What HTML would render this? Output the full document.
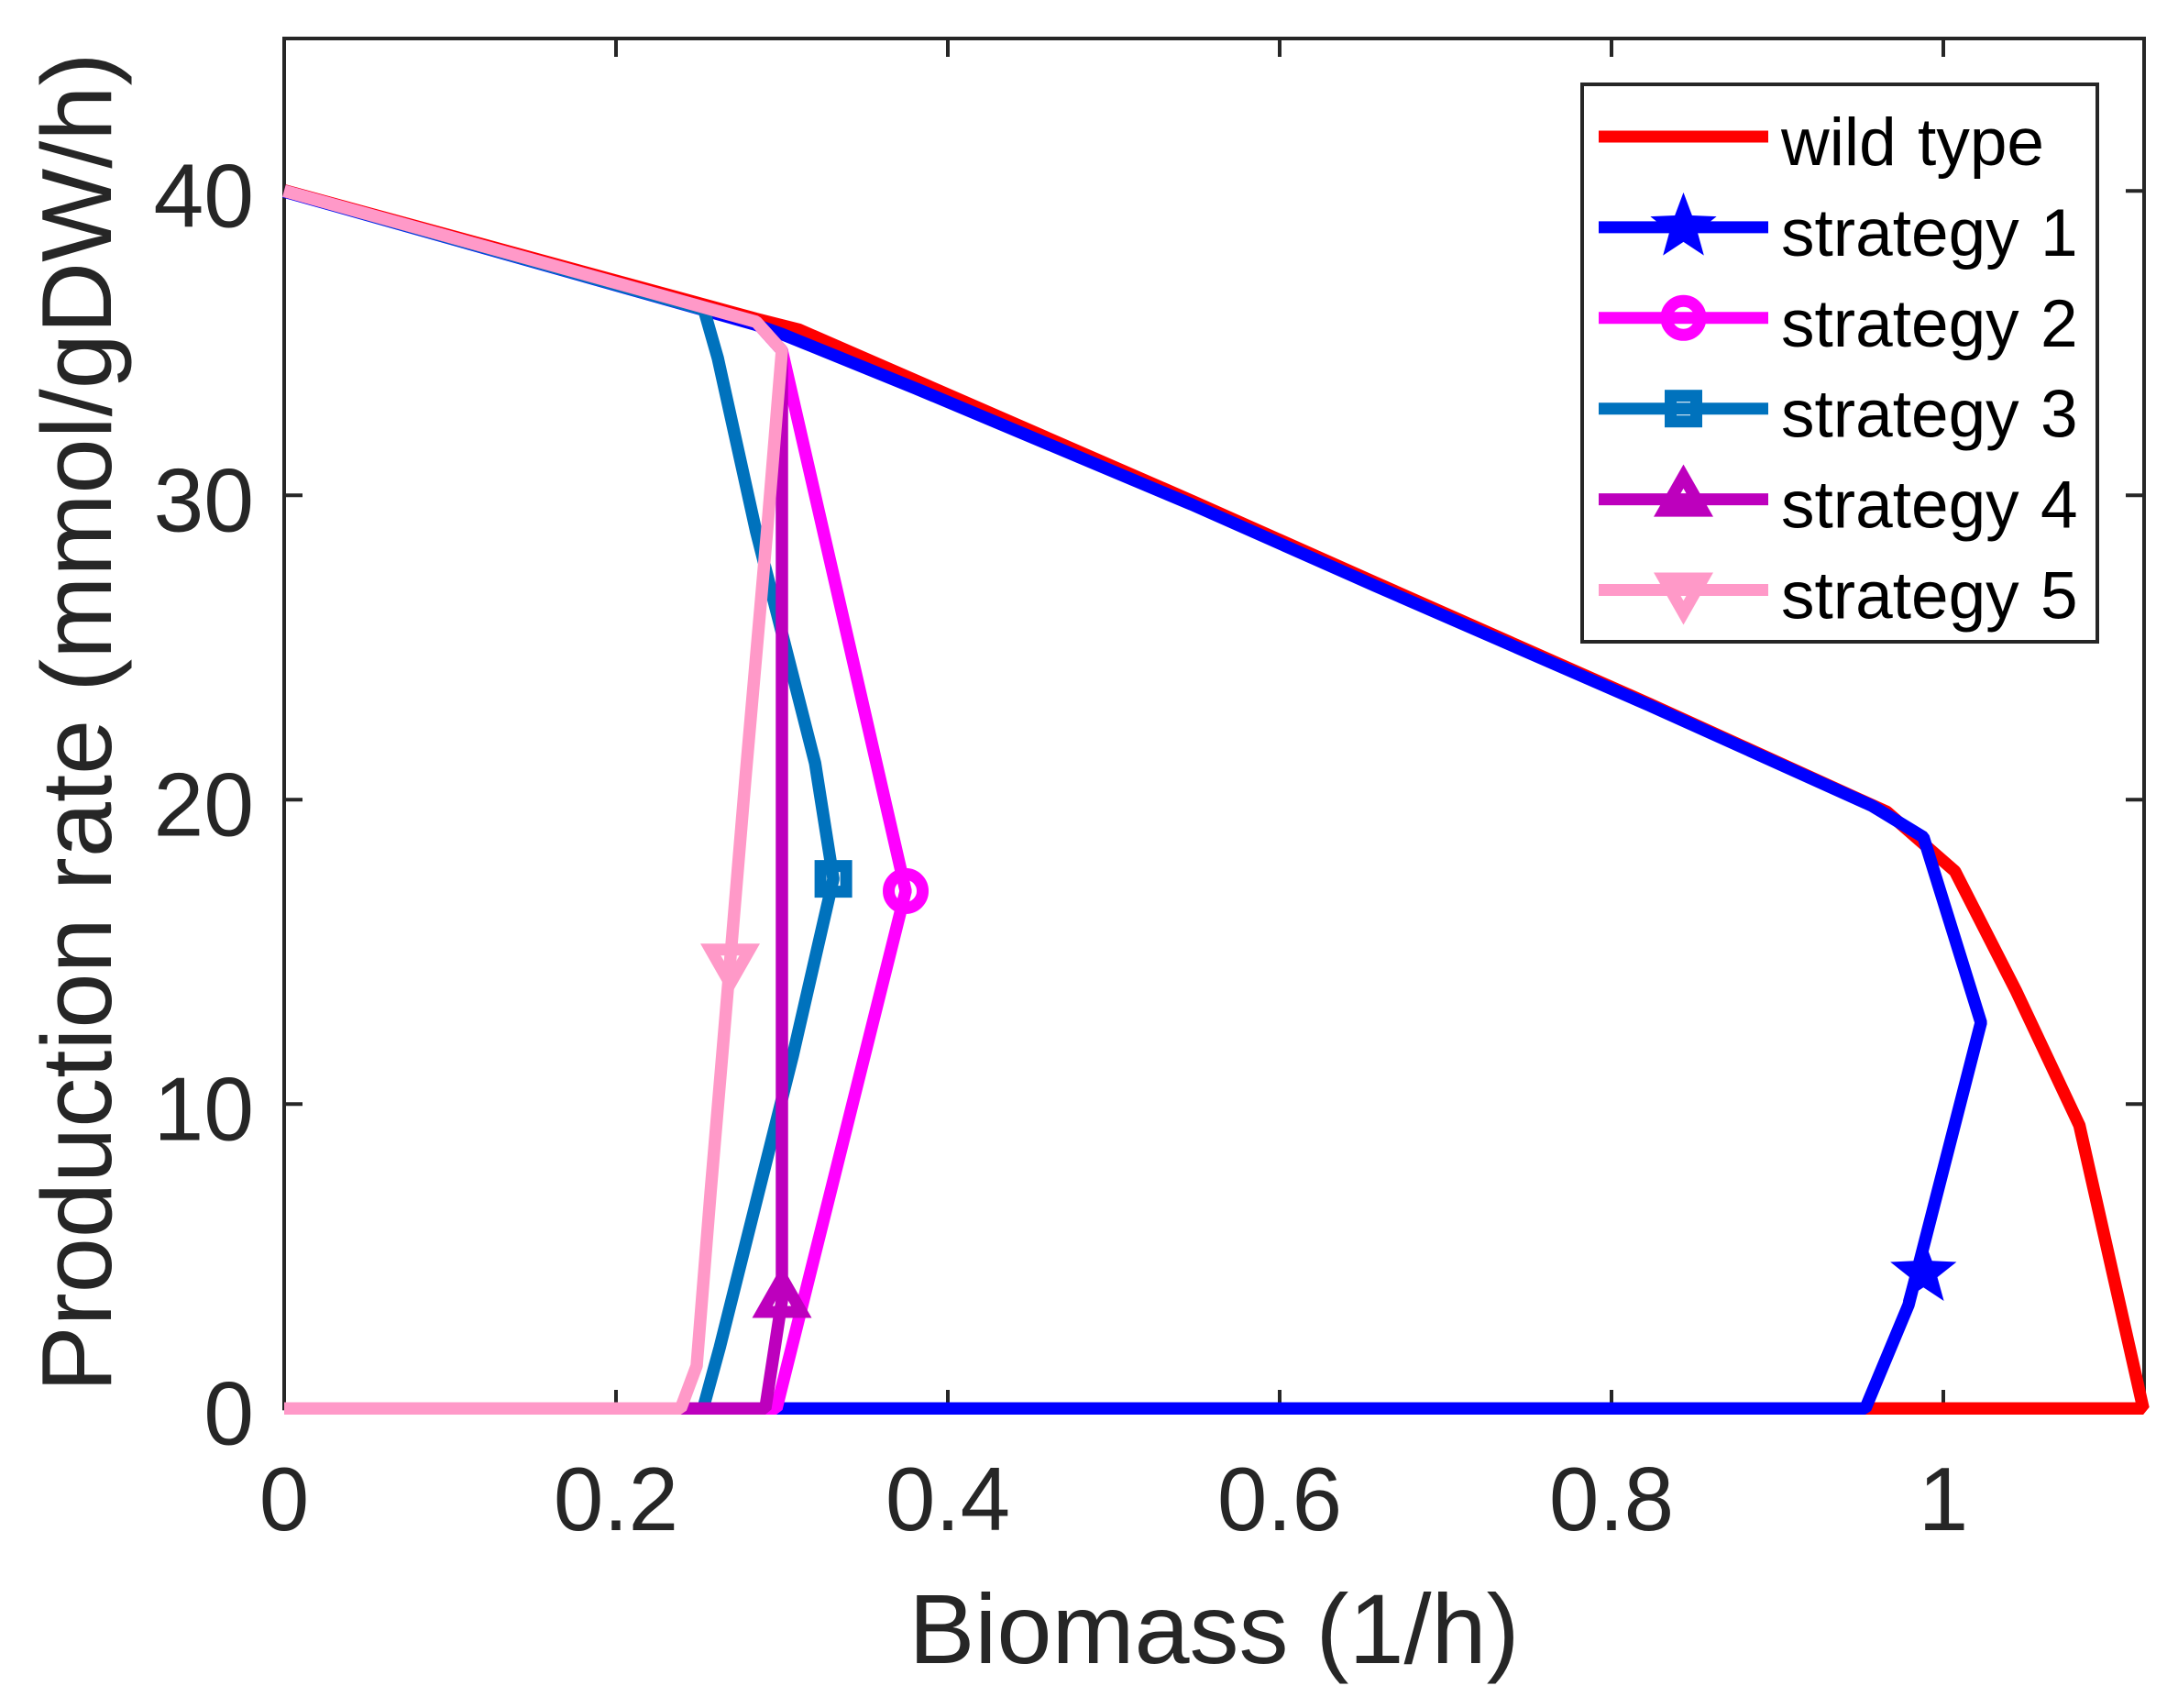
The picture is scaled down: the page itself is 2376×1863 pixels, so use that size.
<!DOCTYPE html>
<html lang="en">
<head>
<meta charset="utf-8">
<title>Production rate vs biomass</title>
<style>
html,body{margin:0;padding:0;background:#fff;}
svg{display:block;font-family:"Liberation Sans",Arial,sans-serif;}
</style>
</head>
<body>
<svg id="chart" xmlns="http://www.w3.org/2000/svg" width="2376" height="1863" viewBox="0 0 2376 1863">
  <rect x="0" y="0" width="2376" height="1863" fill="#ffffff"/>
  <g id="ticks"></g>
  <rect x="310" y="42" width="2029" height="1494.3" fill="none" stroke="#262626" stroke-width="4"/>
  <g id="tick-labels"></g>
  <text x="1324.5" y="1814" font-size="108" text-anchor="middle" fill="#262626">Biomass (1/h)</text>
  <text transform="translate(121 788) rotate(-90)" font-size="108.2" text-anchor="middle" fill="#262626">Production rate (mmol/gDW/h)</text>
  <g id="series"></g>
  <rect x="1726" y="92" width="562" height="608" fill="#ffffff" stroke="#262626" stroke-width="4"/>
  <g id="legend"></g>
</svg>
<script>
const xTicks = [0, 0.2, 0.4, 0.6, 0.8, 1];
const xTickLabels = ['0', '0.2', '0.4', '0.6', '0.8', '1'];
const yTicks = [0, 10, 20, 30, 40];
const yTickLabels = ['0', '10', '20', '30', '40'];
const seriesLabels = ['wild type', 'strategy 1', 'strategy 2', 'strategy 3', 'strategy 4', 'strategy 5'];

const wildTypeX = [0, 0.2845, 0.31, 0.3812, 0.547, 0.6575, 0.8232, 0.966, 1.007, 1.044, 1.082, 1.1205, 0];
const wildTypeY = [40.02, 35.8, 35.45, 33.76, 29.82, 27.14, 23.14, 19.6, 17.65, 13.7, 9.3, 0, 0];
const strategy1X = [0, 0.2845, 0.3, 0.3812, 0.547, 0.6575, 0.8232, 0.957, 0.988, 1.0227, 0.979, 0.953, 0];
const strategy1Y = [39.98, 35.6, 35.3, 33.5, 29.7, 27.03, 23.09, 19.8, 18.77, 12.68, 3.4, 0, 0];
const strategy1Marker = [0.988, 4.46];
const strategy2X = [0, 0.2845, 0.3, 0.3746, 0.2967, 0];
const strategy2Y = [40, 35.7, 34.76, 17.0, 0, 0];
const strategy2Marker = [0.3746, 17.0];
const strategy3X = [0, 0.253, 0.2614, 0.2845, 0.32, 0.331, 0.3066, 0.2625, 0.2525, 0];
const strategy3Y = [40, 36.1, 34.5, 28.8, 21.2, 17.4, 11.6, 2.0, 0, 0];
const strategy3Marker = [0.331, 17.4];
const strategy4X = [0, 0.2845, 0.3, 0.3, 0.29, 0];
const strategy4Y = [40, 35.7, 34.76, 3.55, 0, 0];
const strategy4Marker = [0.3, 3.55];
const strategy5X = [0, 0.2845, 0.3, 0.291, 0.278, 0.2688, 0.264, 0.257, 0.2486, 0.239, 0];
const strategy5Y = [40, 35.7, 34.76, 28.8, 20.7, 14.7, 11.6, 7.1, 1.4, 0, 0];
const strategy5Marker = [0.2688, 14.7];

const sx = v => 310 + 1810 * v;
const sy = v => 1536.3 - 33.2 * v;
const SVGNS = 'http://www.w3.org/2000/svg';
const TICK_COLOR = '#262626';

function make(tag, props, parent) {
  const el = document.createElementNS(SVGNS, tag);
  for (const k in props) el.setAttribute(k, props[k]);
  parent.appendChild(el);
  return el;
}

function polarPoints(count, outer, inner, cx, cy) {
  const pts = [];
  for (let i = 0; i < count; i++) {
    const r = i % 2 === 0 ? outer : inner;
    const a = -Math.PI / 2 + i * 2 * Math.PI / count;
    pts.push((cx + r * Math.cos(a)).toFixed(2) + ',' + (cy + r * Math.sin(a)).toFixed(2));
  }
  return pts.join(' ');
}

function drawMarker(kind, cx, cy, color, parent) {
  let el = null;
  if (kind === 'star') {
    el = make('polygon', {points: polarPoints(10, 38, 16, cx, cy), fill: color}, parent);
  } else if (kind === 'circle') {
    el = make('circle', {cx: cx, cy: cy, r: 18.5, fill: 'none', stroke: color, 'stroke-width': 13}, parent);
  } else if (kind === 'square') {
    el = make('rect', {x: cx - 14, y: cy - 14, width: 28, height: 28, fill: 'none', stroke: color, 'stroke-width': 13}, parent);
  } else if (kind === 'up') {
    el = make('polygon', {points: [cx + ',' + (cy - 24.9), (cx + 21.3) + ',' + (cy + 12.5), (cx - 21.3) + ',' + (cy + 12.5)].join(' '), fill: 'none', stroke: color, 'stroke-width': 13, 'stroke-miterlimit': 10}, parent);
  } else if (kind === 'down') {
    el = make('polygon', {points: [cx + ',' + (cy + 24.9), (cx + 21.3) + ',' + (cy - 12.5), (cx - 21.3) + ',' + (cy - 12.5)].join(' '), fill: 'none', stroke: color, 'stroke-width': 13, 'stroke-miterlimit': 10}, parent);
  }
  return el;
}

/* ticks and tick labels */
const tickGroup = document.getElementById('ticks');
const labelGroup = document.getElementById('tick-labels');
xTicks.forEach((t, i) => {
  const x = sx(t);
  const bottom = make('line', {x1: x, x2: x, y1: 1536, y2: 1516, stroke: TICK_COLOR, 'stroke-width': 4}, tickGroup);
  
  
  const top = make('line', {x1: x, x2: x, y1: 42, y2: 62, stroke: TICK_COLOR, 'stroke-width': 4}, tickGroup);
  
  
  const label = make('text', {x: x, y: 1669, 'font-size': 98, 'text-anchor': 'middle', fill: TICK_COLOR}, labelGroup);
  label.textContent = xTickLabels[i];
  
  
});
yTicks.forEach((t, i) => {
  const y = sy(t);
  const left = make('line', {x1: 310, x2: 330, y1: y, y2: y, stroke: TICK_COLOR, 'stroke-width': 4}, tickGroup);
  
  
  const right = make('line', {x1: 2339, x2: 2319, y1: y, y2: y, stroke: TICK_COLOR, 'stroke-width': 4}, tickGroup);
  
  
  const label = make('text', {x: 277, y: y + 39, 'font-size': 98.5, 'text-anchor': 'end', fill: TICK_COLOR}, labelGroup);
  label.textContent = yTickLabels[i];
  
  
});

/* series, drawn in plotting order */
const seriesGroup = document.getElementById('series');
function drawSeries(xs, ys, color, marker, kind) {
  const points = xs.map((x, i) => sx(x).toFixed(2) + ',' + sy(ys[i]).toFixed(2)).join(' ');
  const line = make('polyline', {points: points, fill: 'none', stroke: color, 'stroke-width': 13.5, 'stroke-linejoin': 'bevel', 'stroke-linecap': 'butt'}, seriesGroup);
  
  
  if (marker) {
    const m = drawMarker(kind, sx(marker[0]), sy(marker[1]), color, seriesGroup);
    
    
  }
}
drawSeries(wildTypeX, wildTypeY, '#ff0000', null, null);
drawSeries(strategy1X, strategy1Y, '#0000ff', strategy1Marker, 'star');
drawSeries(strategy2X, strategy2Y, '#ff00ff', strategy2Marker, 'circle');
drawSeries(strategy3X, strategy3Y, '#0072bd', strategy3Marker, 'square');
drawSeries(strategy4X, strategy4Y, '#bd00bd', strategy4Marker, 'up');
drawSeries(strategy5X, strategy5Y, '#ff99c8', strategy5Marker, 'down');

/* legend */
const legendGroup = document.getElementById('legend');
const legendColors = ['#ff0000', '#0000ff', '#ff00ff', '#0072bd', '#bd00bd', '#ff99c8'];
const legendKinds = [null, 'star', 'circle', 'square', 'up', 'down'];
seriesLabels.forEach((name, i) => {
  const y = 149 + i * 98.9;
  const sample = make('line', {x1: 1744, x2: 1929, y1: y, y2: y, stroke: legendColors[i], 'stroke-width': 13}, legendGroup);
  
  
  if (legendKinds[i]) {
    const m = drawMarker(legendKinds[i], 1836.5, y, legendColors[i], legendGroup);
    
    
  }
  const label = make('text', {x: 1943, y: y + 31, 'font-size': 73, 'word-spacing': 3, fill: '#000000'}, legendGroup);
  label.textContent = name;
  
  
});
</script>
</body>
</html>
